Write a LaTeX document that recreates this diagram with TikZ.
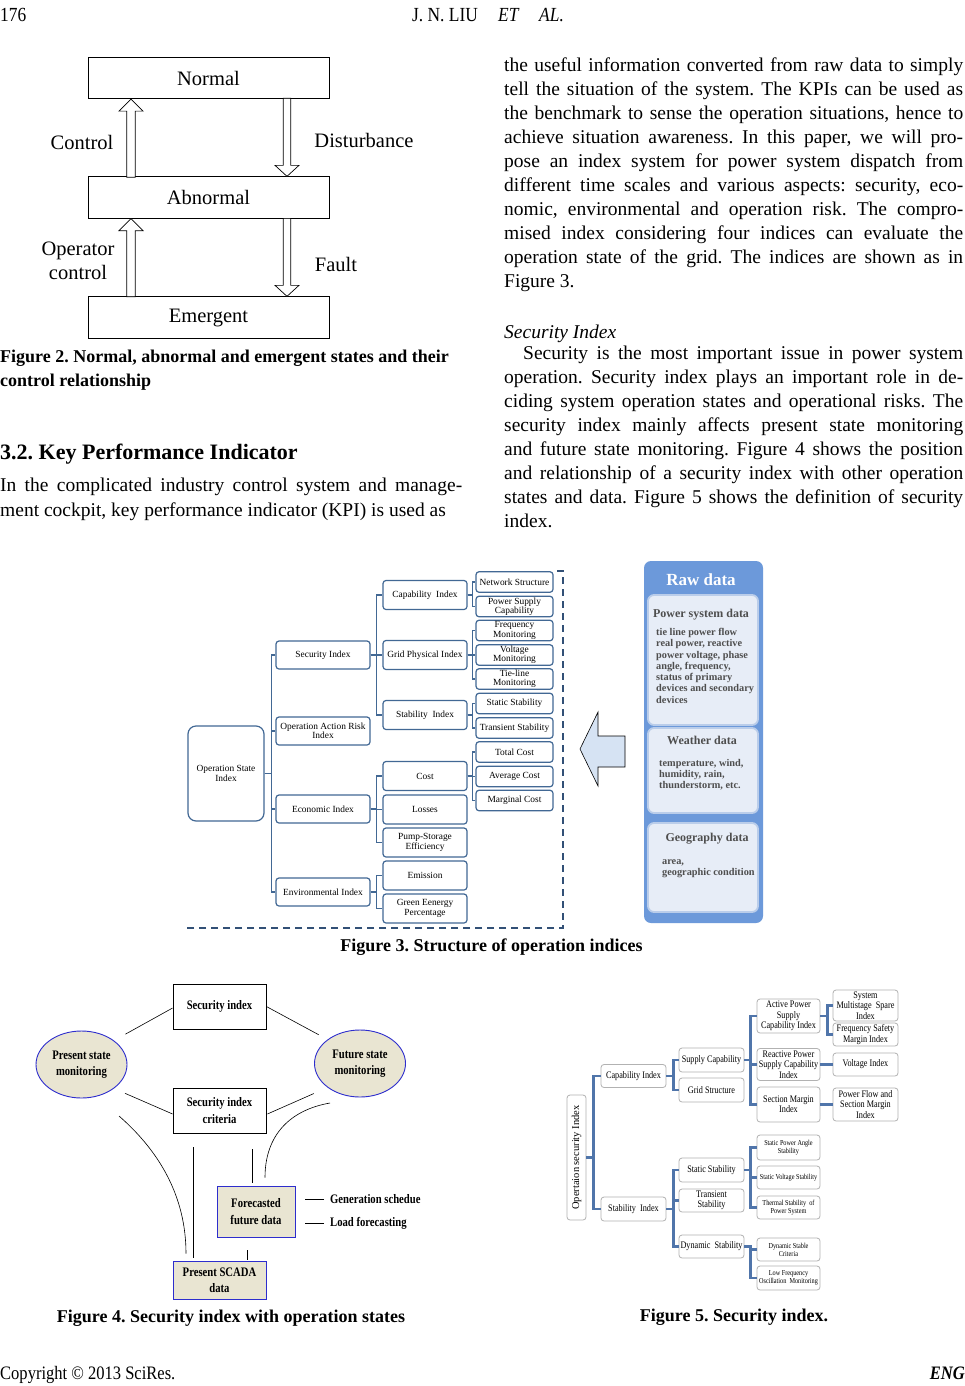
\documentclass[tikz,border=0pt]{standalone}
\usepackage{fontspec}
\setmainfont{Liberation Serif}
\newfontfamily\condfont[FakeStretch=0.82]{Liberation Serif}
\newfontfamily\headfont[FakeStretch=0.87]{Liberation Serif}
\usetikzlibrary{calc,positioning,shapes.geometric}
\frenchspacing

\definecolor{treeblue}{RGB}{66,104,148}
\definecolor{rawblue}{RGB}{108,153,218}
\definecolor{rawpane}{RGB}{231,237,247}
\definecolor{rawedge}{RGB}{186,205,234}
\definecolor{rawtext}{RGB}{78,78,78}
\definecolor{arrowfill}{RGB}{214,227,243}
\definecolor{dashblue}{RGB}{50,80,118}
\definecolor{beige}{RGB}{233,229,210}
\definecolor{ovalblue}{RGB}{45,45,205}
\definecolor{stemblue}{RGB}{80,117,170}

\newcommand{\jl}[2][459pt]{\makebox[#1][s]{#2}}

\tikzset{
  bodyline/.style={anchor=base west,inner sep=0,font=\fontsize{19.5}{24}\selectfont},
  figcap/.style={anchor=base,inner sep=0,font=\fontsize{18}{24}\selectfont\bfseries},
  statebox/.style={draw,line width=0.8pt,minimum width=241pt,minimum height=41.5pt,inner sep=0,font=\fontsize{20.5}{24}\selectfont},
  statelabel/.style={inner sep=0,align=center,font=\fontsize{20.5}{24}\selectfont},
  uparr/.pic={\draw[line width=0.7pt,fill=white] (0,0) -- (12,12) -- (4.2,12) -- (4.2,78) -- (-4.2,78) -- (-4.2,12) -- (-12,12) -- cycle;},
  dnarr/.pic={\draw[line width=0.7pt,fill=white] (0,0) -- (12,-11) -- (3.8,-11) -- (3.8,-78) -- (-3.8,-78) -- (-3.8,-11) -- (-12,-11) -- cycle;},
  idx/.style={draw=treeblue,line width=1.2pt,rounded corners=3pt,fill=white,align=center,inner sep=0.5pt,font=\fontsize{9.4}{9.4}\selectfont},
  idxa/.style={idx,minimum width=94pt,minimum height=28pt},
  idxb/.style={idx,minimum width=84pt,minimum height=29pt},
  idxc/.style={idx,minimum width=77pt,minimum height=20.5pt},
  treelink/.style={draw=treeblue,line width=1.3pt},
  rawpanebox/.style={fill=rawpane,draw=rawedge,line width=1.8pt,rounded corners=6pt,minimum width=110pt},
  rawhead/.style={inner sep=0,text=rawtext,font=\bfseries\fontsize{12}{14}\selectfont},
  rawbody/.style={anchor=north west,align=left,inner sep=0,text=rawtext,font=\bfseries\fontsize{10.3}{11.3}\selectfont},
  f4text/.style={font=\condfont\bfseries\fontsize{13}{16.5}\selectfont,align=center,inner sep=0},
  plainbox/.style={f4text,draw,line width=0.8pt,minimum width=93pt,minimum height=45pt},
  databox/.style={f4text,draw=ovalblue,fill=beige,line width=0.9pt},
  stateoval/.style={f4text,ellipse,draw=ovalblue,fill=beige,line width=0.9pt,minimum width=91pt,minimum height=67pt},
  wire/.style={line width=0.6pt},
  box5/.style={draw=gray!60,line width=0.8pt,rounded corners=3pt,fill=white,align=center,inner sep=0.3pt,minimum width=65pt,font=\condfont\fontsize{10}{10.4}\selectfont},
  small5/.style={box5,minimum width=63pt,font=\condfont\fontsize{7.6}{8.2}\selectfont},
  stemlink/.style={draw=stemblue,line width=2.2pt}
}

\begin{document}
\begin{tikzpicture}[x=1pt,y=-1pt]
  \fill[white] (0,0) rectangle (965,1386);
  \useasboundingbox (0,0) rectangle (965,1386);

  % running head and foot
  \node[anchor=base west,inner sep=0,font=\headfont\fontsize{20}{24}\selectfont] (pageno) at (0,22) {176};
  \node[anchor=base west,inner sep=0,font=\headfont\fontsize{20}{24}\selectfont] (runa) at (412,22) {J. N. LIU};
  \node[anchor=base west,inner sep=0,font=\headfont\itshape\fontsize{20}{24}\selectfont] (runb) at (498,22) {ET};
  \node[anchor=base west,inner sep=0,font=\headfont\itshape\fontsize{20}{24}\selectfont] (runc) at (539,22) {AL.};
  \node[anchor=base west,inner sep=0,font=\headfont\fontsize{19}{24}\selectfont] (copy) at (0,1379) {Copyright © 2013 SciRes.};
  \node[anchor=base east,inner sep=0,font=\headfont\bfseries\itshape\fontsize{19}{24}\selectfont] (journal) at (965,1379) {ENG};

  % Figure 2: states
  \node[statebox] (normal) at (208.5,78) {Normal};
  \node[statebox] (abnormal) at (208.5,197.5) {Abnormal};
  \node[statebox] (emergent) at (208.5,317.5) {Emergent};
  \pic at ($(normal.south)+(-77.5,0)$) {uparr};
  \pic at ($(abnormal.north)+(78.5,0)$) {dnarr};
  \pic at ($(abnormal.south)+(-77.5,0)$) {uparr};
  \pic at ($(emergent.north)+(78.5,0)$) {dnarr};
  \node[statelabel] (ctl) at (82,142) {Control};
  \node[statelabel] (dist) at (364,140) {Disturbance};
  \node[statelabel] (opctl) at (78,261) {Operator\\control};
  \node[statelabel] (fault) at (336,264) {Fault};
  \node[figcap,anchor=base west] (cap2a) at (0,362) {Figure 2. Normal, abnormal and emergent states and their};
  \node[figcap,anchor=base west] (cap2b) at (0,386) {control relationship};

  % left column text
  \node[anchor=base west,inner sep=0,font=\fontsize{22}{26}\selectfont\bfseries] (sec32) at (0,459) {3.2. Key Performance Indicator};
  \node[bodyline] (la0) at (0,491.5) {\jl[462pt]{In the complicated industry control system and manage-}};
  \node[bodyline] (la1) at (0,516.5) {ment cockpit, key performance indicator (KPI) is used as};

  % right column text
  \foreach \txt [count=\k from 0] in {
    {the useful information converted from raw data to simply},
    {tell the situation of the system. The KPIs can be used as},
    {the benchmark to sense the operation situations, hence to},
    {achieve situation awareness. In this paper, we will pro-},
    {pose an index system for power system dispatch from},
    {different time scales and various aspects: security, eco-},
    {nomic, environmental and operation risk. The compro-},
    {mised index considering four indices can evaluate the},
    {operation state of the grid. The indices are shown as in},
    {Figure 3.\hfill}}
    \node[bodyline] (ra\k) at (504,{71.5+24*\k}) {\jl{\txt}};
  \node[bodyline] (subhead) at (504,338) {\textit{Security Index}};
  \foreach \txt [count=\k from 0] in {
    {\hspace*{19pt}Security is the most important issue in power system},
    {operation. Security index plays an important role in de-},
    {ciding system operation states and operational risks. The},
    {security index mainly affects present state monitoring},
    {and future state monitoring. Figure 4 shows the position},
    {and relationship of a security index with other operation},
    {states and data. Figure 5 shows the definition of security},
    {index.\hfill}}
    \node[bodyline] (rb\k) at (504,{359.5+24*\k}) {\jl{\txt}};

  % Figure 3: index tree
  \node[idx,minimum width=76pt,minimum height=95pt,rounded corners=8pt] (osi) at (226,773.5) {Operation State\\Index};
  \node[idxa] (secx) at (323,655) {Security Index};
  \node[idxa] (oprisk) at (323,731) {Operation Action Risk\\Index};
  \node[idxa] (econ) at (323,809) {Economic Index};
  \node[idxa] (envi) at (323,892) {Environmental Index};
  \node[idxb] (capi) at (425,595) {Capability~ Index};
  \node[idxb] (gridp) at (425,655) {Grid Physical Index};
  \node[idxb] (stabi) at (425,715) {Stability~ Index};
  \node[idxb] (cost) at (425,776) {Cost};
  \node[idxb] (losses) at (425,809.5) {Losses};
  \node[idxb] (pumps) at (425,842.5) {Pump-Storage\\Efficiency};
  \node[idxb] (emis) at (425,875.5) {Emission};
  \node[idxb] (green) at (425,908.5) {Green Eenergy\\Percentage};
  \node[idxc] (netst) at (514.5,582) {Network Structure};
  \node[idxc] (psc) at (514.5,606.5) {Power Supply\\Capability};
  \node[idxc] (freqm) at (514.5,630.5) {Frequency\\Monitoring};
  \node[idxc] (voltm) at (514.5,655) {Voltage\\Monitoring};
  \node[idxc] (tiem) at (514.5,679) {Tie-line\\Monitoring};
  \node[idxc] (stats) at (514.5,703.5) {Static Stability};
  \node[idxc] (trans) at (514.5,728) {Transient Stability};
  \node[idxc] (totc) at (514.5,752) {Total Cost};
  \node[idxc] (avgc) at (514.5,776.5) {Average Cost};
  \node[idxc] (marc) at (514.5,800.5) {Marginal Cost};
  \foreach \c in {secx,oprisk,econ,envi} \draw[treelink] (osi.east) -- ++(7,0) |- (\c.west);
  \foreach \c in {capi,gridp,stabi} \draw[treelink] (secx.east) -- ++(6,0) |- (\c.west);
  \foreach \c in {cost,losses,pumps} \draw[treelink] (econ.east) -- ++(6,0) |- (\c.west);
  \foreach \c in {emis,green} \draw[treelink] (envi.east) -- ++(6,0) |- (\c.west);
  \foreach \c in {netst,psc} \draw[treelink] (capi.east) -- ++(5,0) |- (\c.west);
  \foreach \c in {freqm,voltm,tiem} \draw[treelink] (gridp.east) -- ++(5,0) |- (\c.west);
  \foreach \c in {stats,trans} \draw[treelink] (stabi.east) -- ++(5,0) |- (\c.west);
  \foreach \c in {totc,avgc,marc} \draw[treelink] (cost.east) -- ++(5,0) |- (\c.west);
  \draw[dashblue,line width=1.5pt,dash pattern=on 7pt off 5pt] (557,571) -- (563,571) -- (563,928) -- (185,928);

  % raw data panel
  \draw[fill=arrowfill,line width=0.6pt] (580,749) -- (598,712) -- (598,736) -- (625,736) -- (625,767) -- (598,767) -- (598,786) -- cycle;
  \node[fill=rawblue,rounded corners=7pt,minimum width=119pt,minimum height=362pt] (raw) at (703.5,742) {};
  \node[inner sep=0,text=white,font=\bfseries\fontsize{17}{20}\selectfont] (rawtitle) at (701,580) {Raw data};
  \node[rawpanebox,minimum height=130pt] (pspane) at (703,660) {};
  \node[rawpanebox,minimum height=85pt] (wxpane) at (703,770.5) {};
  \node[rawpanebox,minimum height=89pt] (geopane) at (703,867.5) {};
  \node[rawhead] (pshead) at (701,615) {Power system data};
  \node[rawbody] (psbody) at (656,628) {tie line power flow\\real power, reactive\\power voltage, phase\\angle, frequency,\\status of primary\\devices and secondary\\devices};
  \node[rawhead] (wxhead) at (702,740) {Weather data};
  \node[rawbody] (wxbody) at (659,759) {temperature, wind,\\humidity, rain,\\thunderstorm, etc.};
  \node[rawhead] (geohead) at (707,839) {Geography data};
  \node[rawbody] (geobody) at (662,859) {area,\\geographic condition};
  \node[figcap] (cap3) at (491.5,951) {Figure 3. Structure of operation indices};

  % Figure 4: security index and states
  \node[plainbox] (secidx) at (219.5,1006.5) {Security index};
  \node[plainbox] (crit) at (219.5,1110.5) {Security index\\criteria};
  \node[stateoval] (pres) at (81.5,1064.5) {Present state\\monitoring};
  \node[stateoval] (fut) at (360,1063.5) {Future state\\monitoring};
  \node[databox,minimum width=78pt,minimum height=51pt] (fore) at (256,1211.5) {Forecasted\\future data};
  \node[databox,minimum width=93pt,minimum height=38pt] (scada) at (219.5,1280) {Present SCADA\\data};
  \node[f4text,anchor=west] (gensch) at (330,1199) {Generation schedue};
  \node[f4text,anchor=west] (loadfc) at (330,1223) {Load forecasting};
  \draw[wire,shorten >=13pt] ($(secidx.west)+(0,1.5)$) -- (pres.north east);
  \draw[wire,shorten >=10pt] (secidx.east) -- (fut.north west);
  \draw[wire,shorten >=12pt] ($(crit.west)+(0,3.5)$) -- (pres.south east);
  \draw[wire,shorten >=15pt] ($(crit.east)+(1,3.5)$) -- (fut.south west);
  \coordinate (presfoot) at (119,1116);
  \coordinate (futfoot) at (330,1103);
  \draw[wire] (presfoot) .. controls (158,1150) and (186,1195) .. ($(scada.north)+(-33.5,-7)$);
  \draw[wire] ($(crit.south)+(-26.5,14)$) -- ($(scada.north)+(-26.5,-3)$);
  \draw[wire] ($(crit.south)+(32.5,16)$) -- ($(fore.north)+(-4,-3)$);
  \draw[wire] (futfoot) .. controls (290,1110) and (265,1135) .. ($(fore.north)+(9,-8)$);
  \draw[wire] ($(fore.south)+(-9,13)$) -- ($(scada.north)+(27.5,-1)$);
  \draw[wire] ($(gensch.west)+(-6,0)$) -- ++(-19,0);
  \draw[wire] ($(loadfc.west)+(-6,0)$) -- ++(-19,0);
  \node[figcap] (cap4) at (231,1322) {Figure 4. Security index with operation states};

  % Figure 5: security index tree
  \node[box5,rotate=90,minimum width=125pt,minimum height=19pt,font=\fontsize{10.5}{11}\selectfont] (osec) at (576.5,1157.5) {Opertaion security Index};
  \node[box5,minimum height=23pt] (capx) at (633.5,1076) {Capability Index};
  \node[box5,minimum height=24pt] (stabx) at (633.5,1209) {Stability~ Index};
  \node[box5,minimum height=24pt] (supcap) at (711.5,1060) {Supply Capability};
  \node[box5,minimum height=24pt] (gridst) at (711.5,1090) {Grid Structure};
  \node[box5,minimum height=24pt] (statst) at (711.5,1170) {Static Stability};
  \node[box5,minimum height=23pt] (transt) at (711.5,1200.5) {Transient\\Stability};
  \node[box5,minimum height=23pt] (dynst) at (711.5,1246.5) {Dynamic~ Stability};
  \node[box5,minimum width=63pt,minimum height=34pt] (actpow) at (788.5,1016) {Active Power\\Supply\\Capability Index};
  \node[box5,minimum width=63pt,minimum height=32pt] (reapow) at (788.5,1064.5) {Reactive Power\\Supply Capability\\Index};
  \node[box5,minimum width=63pt,minimum height=35pt] (secmar) at (788.5,1104.5) {Section Margin\\Index};
  \node[small5,minimum height=25pt] (spangle) at (788.5,1147.5) {Static Power Angle\\Stability};
  \node[small5,minimum height=23pt] (svolt) at (788.5,1177.5) {Static Voltage Stability};
  \node[small5,minimum height=23pt] (therm) at (788.5,1207.5) {Thermal Stability~ of\\Power System};
  \node[small5,minimum height=23pt] (dyncrit) at (788.5,1249.5) {Dynamic Stable\\Criteria};
  \node[small5,minimum height=24pt] (lowfo) at (788.5,1278) {Low Frequency\\Oscillation~ Monitoring};
  \node[box5,minimum height=31pt] (spare) at (865.5,1005.5) {System\\Multistage~ Spare\\Index};
  \node[box5,minimum height=23pt] (fsafe) at (865.5,1034.5) {Frequency Safety\\Margin Index};
  \node[box5,minimum height=23pt] (vidx) at (865.5,1064.5) {Voltage Index};
  \node[box5,minimum height=33pt] (pflow) at (865.5,1104.5) {Power Flow and\\Section Margin\\Index};
  \foreach \c in {capx,stabx} \draw[stemlink] (osec.south) -- ++(7,0) |- (\c.west);
  \foreach \c in {supcap,gridst} \draw[stemlink] (capx.east) -- ++(7,0) |- (\c.west);
  \foreach \c in {statst,transt,dynst} \draw[stemlink] (stabx.east) -- ++(7,0) |- (\c.west);
  \foreach \c in {actpow,reapow,secmar} \draw[stemlink] (supcap.east) -- ++(6,0) |- (\c.west);
  \foreach \c in {spangle,svolt,therm} \draw[stemlink] (statst.east) -- ++(6,0) |- (\c.west);
  \foreach \c in {dyncrit,lowfo} \draw[stemlink] (dynst.east) -- ++(6,0) |- (\c.west);
  \foreach \c in {spare,fsafe} \draw[stemlink] (actpow.east) -- ++(7,0) |- (\c.west);
  \draw[stemlink] (reapow.east) -- (vidx.west);
  \draw[stemlink] (secmar.east) -- (pflow.west);
  \node[figcap] (cap5) at (734,1321) {Figure 5. Security index.};
\end{tikzpicture}
\end{document}
